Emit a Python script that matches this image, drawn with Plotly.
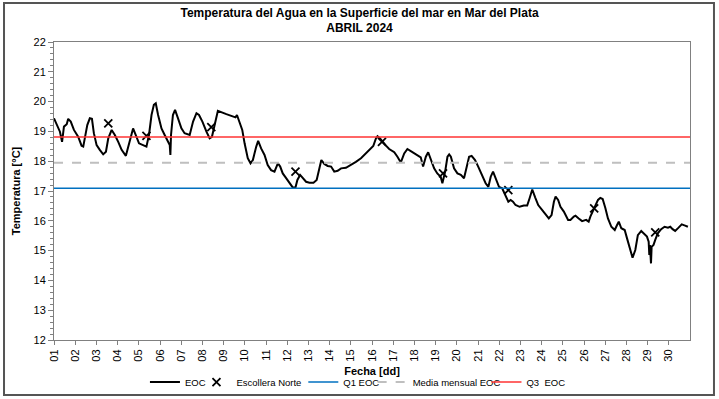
import plotly.graph_objects as go

# EOC series: fractional day of April 2024 and temperature (°C)
eoc_day = [1.00,1.16,1.28,1.38,1.47,1.60,1.67,1.79,1.94,2.14,2.30,2.38,2.46,2.57,2.69,2.79,2.88,3.01,3.16,3.32,
           3.45,3.56,3.72,3.87,4.03,4.19,4.39,4.50,4.66,4.73,4.89,5.01,5.20,5.36,5.48,5.60,5.71,5.80,5.91,6.07,
           6.22,6.38,6.46,6.49,6.52,6.61,6.71,6.85,7.01,7.16,7.40,7.56,7.72,7.84,8.00,8.19,8.34,8.45,8.58,8.73,
           9.13,9.56,9.63,9.75,9.88,9.99,10.14,10.27,10.38,10.54,10.63,10.77,10.93,11.08,11.24,11.40,11.56,11.67,11.79,11.95,
           12.11,12.26,12.39,12.48,12.61,12.76,12.89,13.05,13.24,13.39,13.52,13.61,13.75,13.91,14.07,14.22,14.38,14.54,14.77,15.01,
           15.24,15.48,15.72,15.95,16.06,16.19,16.26,16.37,16.50,16.66,16.81,17.05,17.20,17.36,17.52,17.67,17.83,18.07,18.30,18.41,
           18.54,18.65,18.77,18.93,19.08,19.24,19.32,19.45,19.56,19.64,19.72,19.87,20.03,20.19,20.34,20.45,20.58,20.70,20.86,21.01,
           21.17,21.36,21.49,21.60,21.71,21.83,21.99,22.14,22.30,22.43,22.54,22.65,22.77,22.96,23.16,23.32,23.43,23.56,23.70,23.84,
           24.03,24.21,24.34,24.47,24.58,24.66,24.78,24.89,25.05,25.25,25.36,25.52,25.60,25.75,25.91,26.10,26.22,26.30,26.43,26.54,
           26.66,26.77,26.88,27.01,27.13,27.29,27.45,27.56,27.64,27.76,27.92,28.03,28.19,28.29,28.42,28.54,28.70,28.86,28.97,29.05,
           29.08,29.11,29.16,29.19,29.28,29.36,29.48,29.64,29.80,29.96,30.07,30.18,30.30,30.46,30.61,30.77,30.90]
eoc_temp = [19.44,19.21,18.99,18.65,19.16,19.24,19.42,19.33,19.05,18.82,18.52,18.49,18.77,19.21,19.44,19.42,18.94,18.54,18.38,18.23,
            18.32,18.77,19.05,18.88,18.65,18.38,18.18,18.49,18.99,19.10,18.82,18.60,18.54,18.49,18.88,19.55,19.89,19.94,19.55,19.10,
            18.88,18.65,18.54,18.21,18.88,19.55,19.72,19.44,19.10,18.94,18.88,19.33,19.61,19.55,19.33,18.99,18.77,18.82,19.27,19.69,
            19.58,19.47,19.55,19.27,19.05,18.60,18.10,17.93,18.04,18.49,18.68,18.43,18.21,17.87,17.70,17.65,17.93,17.82,17.59,17.43,
            17.26,17.12,17.12,17.37,17.54,17.43,17.31,17.28,17.28,17.37,17.82,18.04,17.91,17.84,17.82,17.65,17.68,17.76,17.78,17.87,
            17.98,18.10,18.26,18.43,18.51,18.77,18.84,18.77,18.65,18.52,18.41,18.30,18.15,17.96,18.26,18.41,18.34,18.23,18.13,17.82,
            18.15,18.30,18.04,17.76,17.59,17.48,17.26,17.65,18.15,18.23,18.15,17.76,17.59,17.54,17.43,17.76,18.15,18.18,18.04,17.82,
            17.54,17.26,17.14,17.48,17.65,17.43,17.14,17.09,16.81,16.64,16.70,16.64,16.53,16.47,16.51,16.51,16.75,17.05,16.78,16.53,
            16.36,16.19,16.08,16.19,16.64,16.81,16.70,16.47,16.31,16.03,16.03,16.14,16.17,16.08,15.99,16.03,15.97,16.14,16.36,16.53,
            16.70,16.77,16.73,16.42,16.08,15.80,15.69,15.86,15.97,15.75,15.69,15.41,14.96,14.76,15.02,15.52,15.66,15.55,15.47,15.30,
            14.85,15.19,14.57,15.13,15.19,15.36,15.58,15.72,15.80,15.77,15.80,15.72,15.66,15.77,15.88,15.84,15.80]

# Escollera Norte observations
esc_day = [3.56, 5.36, 8.42, 12.39, 16.47, 19.35, 22.43, 26.48, 29.36]
esc_temp = [19.27, 18.85, 19.14, 17.65, 18.65, 17.59, 17.03, 16.42, 15.61]

# Monthly statistics
q1_eoc = 17.09
media_eoc = 17.95
q3_eoc = 18.81

tick_days = list(range(1, 31))
tick_labels = [f"{d:02d}" for d in tick_days]

x_range = [1, 31]
y_range = [12, 22]

FONT = "Liberation Sans Narrow, Arial Narrow, Liberation Sans, Arial, sans-serif"

fig = go.Figure()
fig.add_trace(go.Scatter(x=eoc_day, y=eoc_temp, mode="lines", name="EOC", legend="legend",
                         line=dict(color="black", width=2)))
fig.add_trace(go.Scatter(x=esc_day, y=esc_temp, mode="markers", name="Escollera Norte", legend="legend2",
                         marker=dict(symbol="x-thin", size=8, line=dict(color="black", width=1.8), color="black")))
fig.add_trace(go.Scatter(x=x_range, y=[q1_eoc, q1_eoc], mode="lines", name="Q1 EOC", legend="legend3",
                         line=dict(color="#0070C0", width=1.5)))
fig.add_trace(go.Scatter(x=x_range, y=[media_eoc, media_eoc], mode="lines", name="Media mensual EOC",
                         legend="legend4", line=dict(color="#BFBFBF", width=2, dash="dash")))
fig.add_trace(go.Scatter(x=x_range, y=[q3_eoc, q3_eoc], mode="lines", name="Q3  EOC", legend="legend5",
                         line=dict(color="#FF3333", width=1.5)))

def leg(xp):
    return dict(orientation="h", x=xp, xanchor="left", y=-0.141, yanchor="middle",
                font=dict(family=FONT, size=9.5, color="black"), itemwidth=30,
                bgcolor="rgba(0,0,0,0)")

fig.update_layout(
    width=719, height=399,
    margin=dict(l=54, r=29, t=42, b=59, autoexpand=False),
    paper_bgcolor="white", plot_bgcolor="white",
    font=dict(family=FONT, size=11, color="black"),
    title=dict(text="<b>Temperatura del Agua en la Superficie del mar en Mar del Plata<br>ABRIL 2024</b>",
               x=0.5, xanchor="center", y=0.958, yanchor="top",
               font=dict(family=FONT, size=12, color="black")),
    showlegend=True,
    legend=leg(0.143), legend2=leg(0.224), legend3=leg(0.392),
    legend4=leg(0.501), legend5=leg(0.680),
    xaxis=dict(range=x_range, tickmode="array", tickvals=tick_days, ticktext=tick_labels,
               tickangle=-90, showgrid=False, zeroline=False, showline=True, linecolor="#808080",
               linewidth=1, mirror=True, ticks="outside", ticklen=4, tickcolor="#808080",
               tickfont=dict(size=11), automargin=False,
               title=dict(text="<b>Fecha [dd]</b>", standoff=6, font=dict(size=11))),
    yaxis=dict(range=y_range, dtick=1, showgrid=False, zeroline=False, showline=True,
               linecolor="#808080", linewidth=1, mirror=True, ticks="outside", ticklen=5,
               tickcolor="#808080", tickfont=dict(size=11), automargin=False,
               minor=dict(dtick=0.2, ticks="outside", ticklen=3, tickcolor="#808080"),
               title=dict(text="<b>Temperatura [°C]</b>", standoff=10, font=dict(size=11))),
)

# outer chart frame
fig.add_shape(type="rect", xref="paper", yref="paper",
              x0=-0.0786, x1=1.0377, y0=-0.1846, y1=1.1309,
              line=dict(color="#555555", width=2), fillcolor="rgba(0,0,0,0)", layer="below")

fig.write_html("out.html", config={"displayModeBar": False},
               post_script="document.body.style.margin='0px';document.body.style.overflow='hidden';")
